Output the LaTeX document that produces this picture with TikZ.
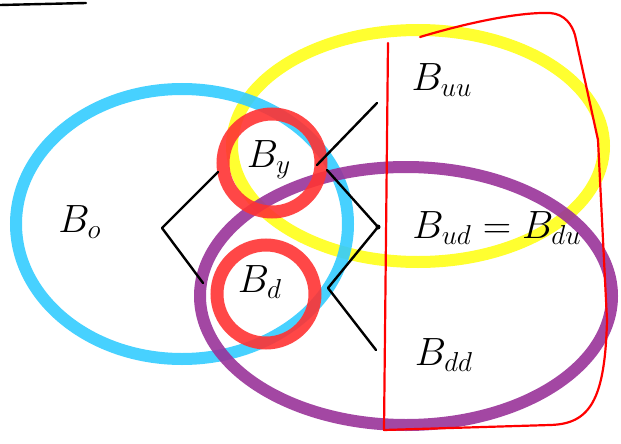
\documentclass[tikz,border=0pt]{standalone}
\usepackage{amsmath}
\usepackage{graphicx}
\usepackage{tikz}
\usetikzlibrary{positioning, calc}
\definecolor{vnCyan}{HTML}{33CCFF}
\definecolor{vnYellow}{HTML}{FFFF1A}
\definecolor{vnPurple}{HTML}{993399}
\definecolor{vnRed}{HTML}{FF3333}
\definecolor{vnFrame}{HTML}{FF0000}
\newcommand{\bigsym}[1]{\scalebox{1.9}{\huge$#1$}}

\begin{document}
\begin{tikzpicture}[
  x=1pt, y=-1pt,
  blob/.style={line width=12pt, opacity=0.9},
  ring/.style={draw=vnRed, line width=13pt, opacity=0.9},
  ink/.style={line width=2.4pt, line cap=round, line join=round},
  lab/.style={inner sep=0pt}
]
  \useasboundingbox (0,0) rectangle (621,444);

  \draw[blob, draw=vnYellow] (418,146) ellipse [x radius=186, y radius=116];
  \draw[blob, draw=vnCyan] (182,224) ellipse [x radius=166, y radius=135];
  \draw[blob, draw=vnPurple] (406,296) ellipse [x radius=206, y radius=129];
  \draw[ring] (272,163) circle [radius=49];
  \draw[ring] (266,294) circle [radius=49];

  \draw[vnFrame, line width=2.2pt, line cap=round, line join=round]
    (420,37) .. controls (470,22) and (520,12) .. (550,13)
    .. controls (565,14) and (572,25) .. (575,35) -- (598,140) -- (607,320)
    .. controls (605,400) and (590,424) .. (550,425) -- (384,430) -- (388,43);

  \node[lab] (buu) at (442,80) {\bigsym{B_{uu}}};
  \node[lab] (by) at (269,160) {\bigsym{B_y}};
  \node[lab] (bo) at (80,222) {\bigsym{B_o}};
  \node[lab] (bud) at (497,228) {\bigsym{B_{ud}=B_{du}}};
  \node[lab] (bd) at (260,282) {\bigsym{B_d}};
  \node[lab] (bdd) at (444,355) {\bigsym{B_{dd}}};

  \coordinate (lt) at (218,172);
  \coordinate (lv) at (162,228);
  \coordinate (lb) at (203,283);
  \coordinate (rt) at (327,170);
  \coordinate (rv) at (378,227);
  \coordinate (rb) at (328,288);
  \coordinate (yu) at (317,165);
  \coordinate (uu) at (377,103);
  \coordinate (dd) at (376,350);
  \coordinate (s1) at (0,5);
  \coordinate (s2) at (86,3);

  \draw[ink] (s1) -- (s2);
  \draw[ink] (lt) -- (lv) -- (lb);
  \draw[ink] (rt) -- (rv) -- (rb) -- (dd);
  \draw[ink] (yu) -- (uu);
  \fill (rv) circle [radius=2.5pt];
\end{tikzpicture}
\end{document}
